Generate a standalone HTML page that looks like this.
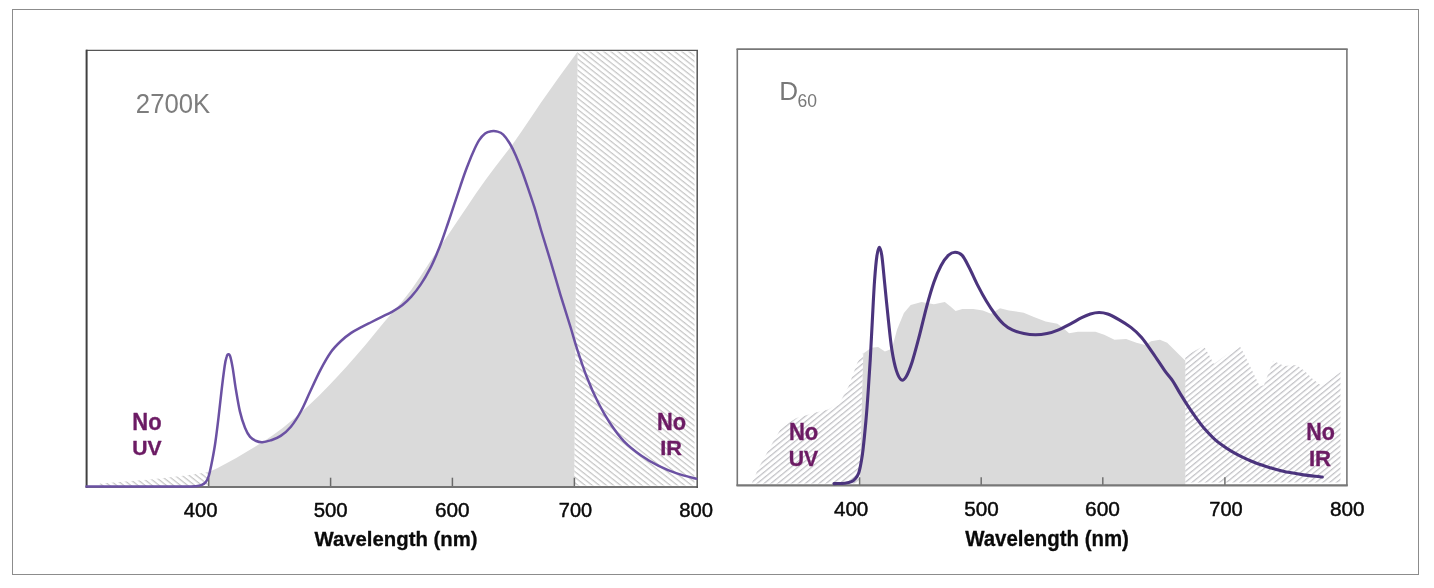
<!DOCTYPE html>
<html lang="en"><head><meta charset="utf-8"><title>Spectral power distribution: 2700K and D60</title>
<style>
html,body{margin:0;padding:0;background:#fff;}
body{width:1434px;height:588px;overflow:hidden;}
svg{display:block;}
text{font-family:"Liberation Sans",sans-serif;}
</style></head><body>
<svg width="1434" height="588" viewBox="0 0 1434 588">
<defs>
<pattern id="hl" width="20" height="4.4" patternUnits="userSpaceOnUse" patternTransform="rotate(38.3)">
<rect x="0" y="0" width="20" height="1.25" fill="#c6c6c6"/>
</pattern>
<pattern id="hr" width="20" height="4.35" patternUnits="userSpaceOnUse" patternTransform="rotate(-39.2)">
<rect x="0" y="0" width="20" height="1.25" fill="#c2c2c6"/>
</pattern>
</defs>
<rect x="0" y="0" width="1434" height="588" fill="#ffffff"/>
<rect x="12.5" y="9.5" width="1406" height="565" fill="none" stroke="#8c8c8c" stroke-width="1"/>

<g id="chart-2700k">
<path d="M208.5 486.9 L208.5 472.2 L217.7 468.0 L227.0 463.1 L236.2 457.9 L245.4 452.5 L254.6 447.0 L263.9 441.2 L273.1 435.0 L282.3 428.2 L291.5 420.7 L300.8 412.8 L310.0 404.3 L319.2 395.4 L328.5 386.1 L337.7 376.3 L346.9 366.2 L356.1 355.7 L365.4 344.9 L374.6 333.7 L383.8 322.5 L393.1 311.7 L402.3 301.3 L411.5 289.6 L420.7 275.9 L430.0 261.7 L439.2 247.9 L448.4 234.4 L457.6 220.8 L466.9 207.0 L476.1 193.3 L485.3 180.2 L494.6 167.7 L503.8 155.8 L513.0 143.7 L522.2 130.5 L531.5 116.7 L540.7 103.1 L549.9 89.9 L559.1 77.0 L568.4 64.3 L577.6 51.8 L574.2 486.9 Z" fill="#dadada"/>
<path d="M98.0 486.9 L100.0 483.5 L150.0 479.5 L190.0 475.0 L208.5 472.0 L208.5 486.9Z" fill="url(#hl)"/>
<path d="M577.6 51.5 L694.5 51.5 L694.5 485.5 L574.2 485.5Z" fill="url(#hl)"/>
<line x1="208.7" y1="487.0" x2="208.7" y2="477.7" stroke="#6a6a6a" stroke-width="1.5"/><line x1="330.6" y1="487.0" x2="330.6" y2="477.7" stroke="#6a6a6a" stroke-width="1.5"/><line x1="452.4" y1="487.0" x2="452.4" y2="477.7" stroke="#6a6a6a" stroke-width="1.5"/><line x1="574.4" y1="487.0" x2="574.4" y2="477.7" stroke="#6a6a6a" stroke-width="1.5"/>
<line x1="86" y1="487" x2="698" y2="487" stroke="#747474" stroke-width="2.2"/>
<line x1="86" y1="50.3" x2="698" y2="50.3" stroke="#565656" stroke-width="1.3"/>
<line x1="697.2" y1="50" x2="697.2" y2="488" stroke="#565656" stroke-width="1.5"/>
<line x1="86.6" y1="49.7" x2="86.6" y2="488.1" stroke="#404040" stroke-width="2"/>
<path d="M86.5 486.6 C95.4 486.6 123.6 486.6 140.0 486.6 C156.4 486.6 175.7 486.7 185.0 486.6 C194.3 486.5 193.3 486.4 196.0 486.2 C198.7 486.0 199.7 485.8 201.3 485.2 C202.9 484.6 204.3 483.9 205.5 482.4 C206.7 480.9 207.6 479.9 208.7 476.2 C209.8 472.5 211.2 465.7 212.3 460.0 C213.4 454.3 214.4 449.1 215.4 442.0 C216.4 434.9 217.5 426.1 218.5 417.6 C219.5 409.1 220.5 399.5 221.5 391.0 C222.5 382.5 223.8 372.2 224.6 366.5 C225.4 360.8 225.9 358.8 226.6 356.8 C227.2 354.8 227.8 354.2 228.5 354.3 C229.2 354.4 229.8 354.9 230.5 357.3 C231.2 359.7 231.9 363.3 232.8 368.6 C233.7 373.9 234.6 381.9 235.8 389.0 C237.0 396.1 238.4 404.9 239.9 411.4 C241.4 417.9 243.3 423.6 245.0 427.8 C246.7 432.1 248.2 434.7 250.1 436.9 C252.0 439.1 254.2 440.1 256.2 441.0 C258.2 441.9 259.9 442.3 262.3 442.2 C264.7 442.1 267.4 441.4 270.5 440.4 C273.6 439.3 277.3 438.2 280.7 435.9 C284.1 433.6 287.5 430.8 290.9 426.7 C294.3 422.6 297.9 416.9 301.1 411.0 C304.4 405.1 307.1 397.9 310.4 391.0 C313.6 384.1 317.2 376.1 320.6 369.6 C324.0 363.1 327.4 357.0 330.8 352.2 C334.2 347.4 337.6 344.2 341.0 341.0 C344.4 337.8 347.8 335.2 351.2 332.9 C354.6 330.6 358.0 328.9 361.4 327.1 C364.8 325.3 368.2 323.7 371.6 322.0 C375.0 320.3 378.4 318.6 381.8 316.9 C385.2 315.2 388.6 313.7 392.0 311.8 C395.4 309.9 399.0 307.8 402.2 305.3 C405.4 302.8 408.2 300.2 411.3 296.7 C414.4 293.2 417.6 289.2 420.8 284.4 C424.0 279.6 427.6 273.3 430.3 268.1 C433.0 262.9 435.1 257.8 437.1 253.1 C439.1 248.4 440.3 245.2 442.2 240.0 C444.1 234.8 446.3 228.1 448.4 222.0 C450.4 215.9 452.5 209.8 454.5 203.7 C456.5 197.6 458.6 191.2 460.6 185.3 C462.6 179.4 464.6 173.4 466.7 168.0 C468.8 162.6 470.8 157.3 472.9 152.7 C474.9 148.1 477.0 143.6 479.0 140.4 C481.0 137.2 483.1 134.9 485.1 133.4 C487.1 131.9 489.1 131.6 491.2 131.3 C493.3 131.0 495.6 131.1 497.6 131.6 C499.6 132.1 501.2 132.6 503.2 134.6 C505.2 136.6 507.7 140.0 509.8 143.5 C511.9 147.0 513.9 151.1 515.9 155.7 C517.9 160.3 520.0 165.6 522.0 171.0 C524.0 176.4 526.1 182.5 528.1 188.4 C530.1 194.3 532.1 199.8 534.2 206.7 C536.4 213.6 538.3 221.0 541.0 230.0 C543.7 239.0 547.1 249.7 550.4 260.6 C553.7 271.5 557.2 284.1 560.6 295.3 C564.0 306.5 568.1 319.1 570.8 328.0 C573.5 336.9 574.3 340.4 576.9 348.4 C579.5 356.4 583.0 367.2 586.5 376.2 C590.0 385.2 594.1 394.6 598.0 402.3 C601.9 410.0 605.3 416.0 609.6 422.5 C613.9 429.0 618.7 435.8 624.0 441.3 C629.3 446.8 635.6 451.6 641.4 455.7 C647.2 459.8 652.9 462.9 658.7 465.8 C664.5 468.7 669.8 470.9 676.1 473.1 C682.4 475.3 692.9 477.9 696.3 478.8" fill="none" stroke="#6b51a3" stroke-width="2.5" stroke-linejoin="round" stroke-linecap="round"/>
<text transform="translate(135.87 113.42) scale(0.9002 1)" font-size="28.54" font-weight="normal" fill="#7d7d7d">2700K</text>
<text transform="translate(132.31 429.53) scale(0.9256 1)" font-size="23.73" font-weight="bold" fill="#6c1b64" stroke="#6c1b64" stroke-width="0.35" stroke-linejoin="round">No</text>
<text transform="translate(132.18 454.93) scale(1.0217 1)" font-size="20.69" font-weight="bold" fill="#6c1b64" stroke="#6c1b64" stroke-width="0.35" stroke-linejoin="round">UV</text>
<text transform="translate(657.02 429.62) scale(0.9132 1)" font-size="23.88" font-weight="bold" fill="#6c1b64" stroke="#6c1b64" stroke-width="0.35" stroke-linejoin="round">No</text>
<text transform="translate(660.23 455.03) scale(1.0667 1)" font-size="20.40" font-weight="bold" fill="#6c1b64" stroke="#6c1b64" stroke-width="0.35" stroke-linejoin="round">IR</text>
<text transform="translate(183.74 516.52) scale(1.0101 1)" font-size="20.11" font-weight="normal" fill="#0a0a0a" stroke="#0a0a0a" stroke-width="0.45" stroke-linejoin="round">400</text>
<text transform="translate(313.63 516.52) scale(1.0134 1)" font-size="20.11" font-weight="normal" fill="#0a0a0a" stroke="#0a0a0a" stroke-width="0.45" stroke-linejoin="round">500</text>
<text transform="translate(434.91 516.52) scale(1.0324 1)" font-size="20.11" font-weight="normal" fill="#0a0a0a" stroke="#0a0a0a" stroke-width="0.45" stroke-linejoin="round">600</text>
<text transform="translate(558.85 516.52) scale(0.9915 1)" font-size="20.11" font-weight="normal" fill="#0a0a0a" stroke="#0a0a0a" stroke-width="0.45" stroke-linejoin="round">700</text>
<text transform="translate(679.34 516.52) scale(1.0072 1)" font-size="20.11" font-weight="normal" fill="#0a0a0a" stroke="#0a0a0a" stroke-width="0.45" stroke-linejoin="round">800</text>
<text transform="translate(314.45 545.72) scale(0.9641 1)" font-size="21.12" font-weight="bold" fill="#0a0a0a" stroke="#0a0a0a" stroke-width="0.30" stroke-linejoin="round">Wavelength (nm)</text>
</g>
<g id="chart-d60">
<path d="M859.6 484.9 L863.3 353.5 L871.3 347.8 L878.1 347.1 L884.9 351.5 L890.0 349.5 L893.0 344.4 L897.1 329.5 L903.9 313.1 L910.7 305.0 L921.6 302.0 L933.9 304.3 L944.8 302.0 L950.2 306.3 L955.6 311.1 L962.4 309.0 L973.3 309.0 L982.9 310.4 L991.0 313.8 L996.5 310.5 L1000.0 308.3 L1009.0 310.5 L1023.7 312.7 L1033.9 317.1 L1045.6 321.5 L1057.4 323.7 L1063.2 328.1 L1069.1 333.2 L1077.9 331.7 L1095.4 331.7 L1104.2 334.7 L1114.5 339.8 L1126.2 339.1 L1136.4 342.7 L1145.2 344.9 L1151.1 341.3 L1159.9 339.8 L1167.2 342.7 L1174.5 350.0 L1183.3 358.8 L1185.3 360.5 L1185.3 484.9 Z" fill="#dadada"/>
<path d="M751.7 483.5 L758.9 467.2 L773.4 441.2 L782.0 426.8 L796.5 418.1 L816.8 412.3 L828.3 409.4 L839.9 402.2 L848.6 386.3 L857.2 363.1 L863.3 352.5 L859.6 483.5Z" fill="url(#hr)"/>
<path d="M1185.3 356.0 L1203.7 346.1 L1207.8 352.7 L1213.9 363.9 L1239.4 345.5 L1243.5 352.7 L1259.8 386.3 L1263.9 385.3 L1273.1 360.8 L1284.3 365.9 L1296.5 364.9 L1304.7 371.0 L1312.9 379.2 L1322.0 386.3 L1340.5 372.0 L1340.5 482.5 L1185.3 482.5Z" fill="url(#hr)"/>
<line x1="859.6" y1="485.3" x2="859.6" y2="477.3" stroke="#707070" stroke-width="1.5"/><line x1="981.2" y1="485.3" x2="981.2" y2="477.3" stroke="#707070" stroke-width="1.5"/><line x1="1102.8" y1="485.3" x2="1102.8" y2="477.3" stroke="#707070" stroke-width="1.5"/><line x1="1224.9" y1="485.3" x2="1224.9" y2="477.3" stroke="#707070" stroke-width="1.5"/>
<line x1="736.5" y1="485.3" x2="1347.7" y2="485.3" stroke="#777777" stroke-width="2.2"/>
<line x1="736.5" y1="49.2" x2="1347.7" y2="49.2" stroke="#777777" stroke-width="1.7"/>
<line x1="737.3" y1="49" x2="737.3" y2="486" stroke="#777777" stroke-width="1.6"/>
<line x1="1346.9" y1="49" x2="1346.9" y2="486" stroke="#777777" stroke-width="1.6"/>
<path d="M834.0 483.6 C835.8 483.5 842.1 483.5 845.0 483.2 C847.9 482.9 849.8 482.5 851.5 481.7 C853.2 480.9 854.3 479.9 855.5 478.5 C856.7 477.1 857.8 475.6 858.7 473.0 C859.6 470.4 860.3 466.9 861.0 463.0 C861.7 459.1 862.2 456.9 863.0 449.9 C863.8 442.9 865.0 430.8 865.9 421.0 C866.8 411.2 867.5 401.4 868.2 391.0 C868.9 380.6 869.6 370.4 870.3 358.8 C871.0 347.2 871.6 334.3 872.3 321.2 C873.0 308.1 873.8 290.9 874.6 280.0 C875.4 269.1 876.1 261.4 876.9 256.0 C877.7 250.6 878.5 247.4 879.3 247.3 C880.1 247.2 880.9 249.4 881.8 255.5 C882.7 261.6 883.6 272.7 884.7 283.6 C885.8 294.6 887.3 310.1 888.5 321.2 C889.7 332.3 890.6 341.9 891.9 350.1 C893.2 358.3 894.7 365.4 896.3 370.4 C897.9 375.4 899.8 379.0 901.5 380.0 C903.2 381.0 904.6 379.2 906.4 376.2 C908.2 373.1 910.0 368.4 912.2 361.7 C914.4 354.9 917.0 344.8 919.4 335.7 C921.8 326.6 924.2 315.7 926.6 306.8 C929.0 297.9 931.5 289.1 933.9 282.2 C936.3 275.3 938.7 270.0 941.1 265.5 C943.5 261.0 946.0 257.5 948.3 255.3 C950.6 253.1 952.7 252.2 955.0 252.2 C957.3 252.2 959.9 252.9 962.2 255.4 C964.5 257.9 966.3 262.1 968.9 267.0 C971.5 271.9 974.7 279.4 977.6 285.1 C980.5 290.8 983.4 296.2 986.3 301.0 C989.2 305.8 992.0 310.1 994.9 314.0 C997.8 317.9 1000.7 321.5 1003.6 324.1 C1006.5 326.8 1008.9 328.3 1012.3 329.9 C1015.7 331.5 1020.0 332.8 1023.9 333.6 C1027.8 334.4 1031.6 334.8 1035.4 334.8 C1039.2 334.8 1043.1 334.4 1047.0 333.6 C1050.9 332.8 1054.8 331.5 1058.6 329.9 C1062.4 328.3 1066.2 326.1 1070.1 324.1 C1073.9 322.1 1078.3 319.4 1081.7 317.7 C1085.1 316.0 1087.5 314.9 1090.4 314.0 C1093.3 313.1 1096.2 312.5 1099.1 312.5 C1102.0 312.5 1104.3 312.8 1107.7 314.0 C1111.1 315.2 1115.4 317.6 1119.3 319.8 C1123.2 322.0 1127.2 324.5 1130.9 327.4 C1134.6 330.3 1137.9 333.1 1141.6 337.4 C1145.3 341.7 1149.2 347.8 1153.1 353.3 C1156.9 358.8 1161.5 366.1 1164.7 370.6 C1167.9 375.2 1169.9 376.8 1172.5 380.6 C1175.1 384.4 1177.5 389.2 1180.2 393.6 C1182.9 398.0 1185.9 402.9 1188.7 407.2 C1191.5 411.5 1194.4 415.5 1197.2 419.3 C1200.0 423.1 1202.9 426.9 1205.7 430.1 C1208.5 433.4 1211.4 436.2 1214.2 438.8 C1217.0 441.4 1219.9 443.6 1222.7 445.6 C1225.5 447.7 1228.1 449.3 1231.2 451.1 C1234.3 452.9 1238.0 454.9 1241.4 456.6 C1244.8 458.3 1248.2 459.8 1251.6 461.2 C1255.0 462.6 1258.4 463.8 1261.8 465.0 C1265.2 466.2 1268.6 467.3 1272.0 468.3 C1275.4 469.3 1279.2 470.2 1282.2 470.9 C1285.2 471.6 1286.5 471.9 1290.0 472.6 C1293.5 473.3 1298.1 474.2 1303.5 474.9 C1308.9 475.6 1319.2 476.6 1322.3 477.0" fill="none" stroke="#4b347d" stroke-width="3.1" stroke-linejoin="round" stroke-linecap="round"/>
<text transform="translate(779.36 100.12) scale(1.0190 1)" font-size="25.62" font-weight="normal" fill="#787878">D</text>
<text transform="translate(797.57 107.12) scale(0.9324 1)" font-size="18.82" font-weight="normal" fill="#787878">60</text>
<text transform="translate(788.91 440.12) scale(0.9348 1)" font-size="23.59" font-weight="bold" fill="#6c1b64" stroke="#6c1b64" stroke-width="0.35" stroke-linejoin="round">No</text>
<text transform="translate(788.68 466.03) scale(0.9304 1)" font-size="22.72" font-weight="bold" fill="#6c1b64" stroke="#6c1b64" stroke-width="0.35" stroke-linejoin="round">UV</text>
<text transform="translate(1306.15 440.12) scale(0.9105 1)" font-size="23.59" font-weight="bold" fill="#6c1b64" stroke="#6c1b64" stroke-width="0.35" stroke-linejoin="round">No</text>
<text transform="translate(1308.90 466.23) scale(0.9771 1)" font-size="22.72" font-weight="bold" fill="#6c1b64" stroke="#6c1b64" stroke-width="0.35" stroke-linejoin="round">IR</text>
<text transform="translate(833.94 516.22) scale(1.0256 1)" font-size="20.11" font-weight="normal" fill="#0a0a0a" stroke="#0a0a0a" stroke-width="0.45" stroke-linejoin="round">400</text>
<text transform="translate(964.32 516.22) scale(1.0291 1)" font-size="20.11" font-weight="normal" fill="#0a0a0a" stroke="#0a0a0a" stroke-width="0.45" stroke-linejoin="round">500</text>
<text transform="translate(1085.00 516.22) scale(1.0419 1)" font-size="20.11" font-weight="normal" fill="#0a0a0a" stroke="#0a0a0a" stroke-width="0.45" stroke-linejoin="round">600</text>
<text transform="translate(1209.25 516.22) scale(0.9978 1)" font-size="20.11" font-weight="normal" fill="#0a0a0a" stroke="#0a0a0a" stroke-width="0.45" stroke-linejoin="round">700</text>
<text transform="translate(1329.92 516.22) scale(1.0322 1)" font-size="20.11" font-weight="normal" fill="#0a0a0a" stroke="#0a0a0a" stroke-width="0.45" stroke-linejoin="round">800</text>
<text transform="translate(965.15 545.72) scale(0.9604 1)" font-size="21.27" font-weight="bold" fill="#0a0a0a" stroke="#0a0a0a" stroke-width="0.30" stroke-linejoin="round">Wavelength (nm)</text>
</g>
</svg>
</body></html>
